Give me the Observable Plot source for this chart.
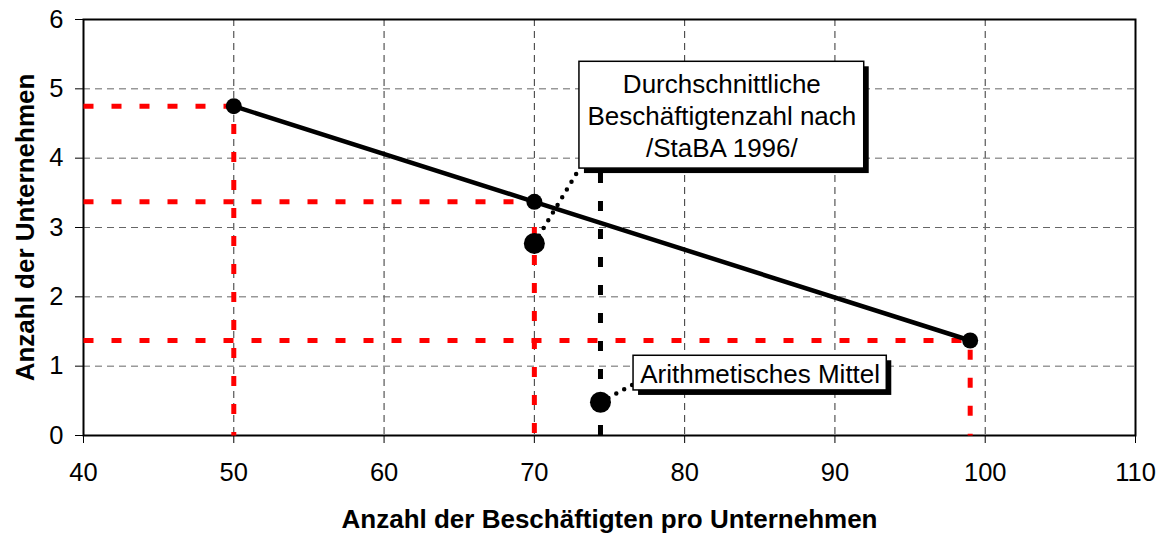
<!DOCTYPE html>
<html>
<head>
<meta charset="utf-8">
<script src="https://cdn.jsdelivr.net/npm/d3@7"></script>
<script src="https://cdn.jsdelivr.net/npm/@observablehq/plot@0.6"></script>
<style>
  html, body { margin: 0; padding: 0; background: #fff; }
</style>
</head>
<body>
<div id="chart"></div>
<script>
// ---- data ----
const employees = [50, 70, 99];          // Beschäftigte pro Unternehmen
const companies = [4.75, 3.37, 1.37];    // Anzahl der Unternehmen
const stabaPoint = [70, 2.77];           // Durchschnittliche Beschäftigtenzahl nach /StaBA 1996/
const meanPoint = [74.4, 0.48];          // Arithmetisches Mittel
const xTicks = [40, 50, 60, 70, 80, 90, 100, 110];
const yTicks = [0, 1, 2, 3, 4, 5, 6];
const xGrid = [50, 60, 70, 80, 90, 100];
const yGrid = [1, 2, 3, 4, 5];
const xLabel = "Anzahl der Beschäftigten pro Unternehmen";
const yLabel = "Anzahl der Unternehmen";
const calloutTexts = ["Durchschnittliche\nBeschäftigtenzahl nach\n/StaBA 1996/", "Arithmetisches Mittel"];
// callout boxes in data coordinates [x1, x2, y1, y2]
const calloutBoxes = [[73.0, 91.95, 3.85, 5.39], [76.6, 93.45, 0.65, 1.15]];
// leader line endpoints on the boxes
const calloutAnchors = [[73.0, 3.85], [76.6, 0.74]];

// ---- derived tables ----
const points = employees.map((e, i) => ({x: e, y: companies[i]}));
const refPaths = employees.flatMap((e, i) => [
  {x: xTicks[0], y: companies[i], z: i},
  {x: e, y: companies[i], z: i},
  {x: e, y: 0, z: i}
]);
const boxes = calloutBoxes.map((b, i) => ({x1: b[0], x2: b[1], y1: b[2], y2: b[3], label: calloutTexts[i]}));
const highlighted = [stabaPoint, meanPoint].map(p => ({x: p[0], y: p[1]}));
const leaders = [stabaPoint, meanPoint].map((p, i) => ({x1: p[0], y1: p[1], x2: calloutAnchors[i][0], y2: calloutAnchors[i][1]}));

const chart = Plot.plot({
  width: 1162,
  height: 536,
  marginLeft: 83,
  marginRight: 27,
  marginTop: 19,
  marginBottom: 101,
  style: {fontFamily: "'Liberation Sans', Arial, sans-serif", fontSize: "25.5px", color: "#000", background: "#fff"},
  x: {domain: [40, 110], ticks: xTicks, tickSize: 8, tickPadding: 19, label: null, tickFormat: d => String(d)},
  y: {domain: [0, 6], ticks: yTicks, tickSize: 8, tickPadding: 12, label: null, tickFormat: d => String(d)},
  marks: [
    Plot.ruleX(xGrid, {stroke: "#333", strokeWidth: 1, strokeDasharray: "7,5"}),
    Plot.ruleY(yGrid, {stroke: "#666", strokeWidth: 1, strokeDasharray: "7,5"}),
    Plot.frame({stroke: "#000", strokeWidth: 2}),
    Plot.line(refPaths, {x: "x", y: "y", z: "z", stroke: "#ff0000", strokeWidth: 5, strokeDasharray: "10,18", strokeLinecap: "butt", strokeLinejoin: "miter"}),
    Plot.ruleX([meanPoint[0]], {y1: 0, y2: calloutBoxes[0][2], stroke: "#000", strokeWidth: 5, strokeDasharray: "10,18", strokeLinecap: "butt"}),
    Plot.line(points, {x: "x", y: "y", stroke: "#000", strokeWidth: 4.5}),
    Plot.dot(points, {x: "x", y: "y", r: 8, fill: "#000"}),
    Plot.link(leaders, {x1: "x1", y1: "y1", x2: "x2", y2: "y2", stroke: "#000", strokeWidth: 4.5, strokeDasharray: "0,9", strokeLinecap: "round"}),
    Plot.dot(highlighted, {x: "x", y: "y", r: 10.5, fill: "#000"}),
    Plot.rect(boxes, {x1: "x1", x2: "x2", y1: "y1", y2: "y2", fill: "#000", dx: 5, dy: 5}),
    Plot.rect(boxes, {x1: "x1", x2: "x2", y1: "y1", y2: "y2", fill: "#fff", stroke: "#000", strokeWidth: 1.5}),
    Plot.text(boxes, {x: d => (d.x1 + d.x2) / 2, y: d => (d.y1 + d.y2) / 2, text: "label", fontSize: 26, lineHeight: 1.23, fill: "#000"}),
    Plot.text([xLabel], {frameAnchor: "bottom", dy: 84, textAnchor: "middle", lineAnchor: "middle", text: d => d, fontSize: 26, fontWeight: "bold", fill: "#000"}),
    Plot.text([yLabel], {frameAnchor: "left", dx: -58, textAnchor: "middle", lineAnchor: "middle", rotate: -90, text: d => d, fontSize: 26, fontWeight: "bold", fill: "#000"})
  ]
});
document.getElementById("chart").appendChild(chart);
</script>
</body>
</html>
